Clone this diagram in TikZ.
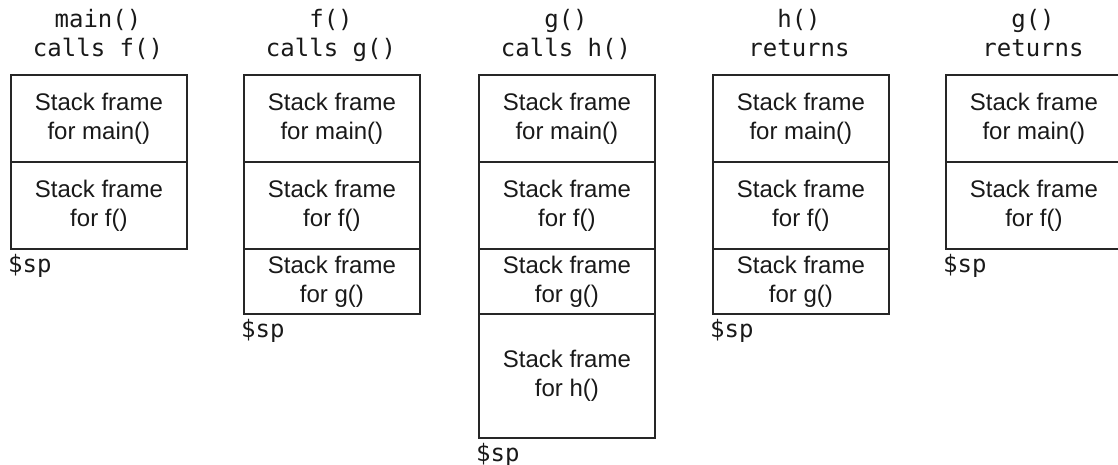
\documentclass[tikz,border=0pt]{standalone}
\usepackage{fontspec}
\setmainfont{Liberation Sans}
\setmonofont{DejaVu Sans Mono}
\begin{document}
\begin{tikzpicture}[x=1pt,y=-1pt,
  frame/.style={draw=black!85, line width=1.8pt, anchor=north west, minimum width=176pt, inner sep=0pt,
    align=center, text=black!90, font=\fontsize{24}{29}\selectfont},
  ttl/.style={anchor=base, inner sep=0pt, align=center, text=black!90, font=\ttfamily\fontsize{24}{29}\selectfont},
  sp/.style={anchor=base west, inner sep=0pt, text=black!90, font=\ttfamily\fontsize{24}{29}\selectfont}]
\useasboundingbox (0,0) rectangle (1118,465);
% column 1
\node[ttl] (t1a) at (98,28) {main()};
\node[ttl] (t1b) at (98,57) {calls f()};
\node[frame, minimum height=87pt] (c1m) at (10,74) {Stack frame\\for main()};
\node[frame, minimum height=87pt] (c1f) at (10,161) {Stack frame\\for f()};
\node[sp] (s1) at (8,272) {\$sp};
% column 2
\node[ttl] (t2a) at (331,28) {f()};
\node[ttl] (t2b) at (331,57) {calls g()};
\node[frame, minimum height=87pt] (c2m) at (243,74) {Stack frame\\for main()};
\node[frame, minimum height=87pt] (c2f) at (243,161) {Stack frame\\for f()};
\node[frame, minimum height=65pt] (c2g) at (243,248) {Stack frame\\for g()};
\node[sp] (s2) at (241,337) {\$sp};
% column 3
\node[ttl] (t3a) at (566,28) {g()};
\node[ttl] (t3b) at (566,57) {calls h()};
\node[frame, minimum height=87pt] (c3m) at (478,74) {Stack frame\\for main()};
\node[frame, minimum height=87pt] (c3f) at (478,161) {Stack frame\\for f()};
\node[frame, minimum height=65pt] (c3g) at (478,248) {Stack frame\\for g()};
\node[frame, minimum height=124pt] (c3h) at (478,313) {Stack frame\\for h()};
\node[sp] (s3) at (476,461) {\$sp};
% column 4
\node[ttl] (t4a) at (799,28) {h()};
\node[ttl] (t4b) at (799,57) {returns};
\node[frame, minimum height=87pt] (c4m) at (712,74) {Stack frame\\for main()};
\node[frame, minimum height=87pt] (c4f) at (712,161) {Stack frame\\for f()};
\node[frame, minimum height=65pt] (c4g) at (712,248) {Stack frame\\for g()};
\node[sp] (s4) at (710,337) {\$sp};
% column 5
\node[ttl] (t5a) at (1033,28) {g()};
\node[ttl] (t5b) at (1033,57) {returns};
\node[frame, minimum height=87pt] (c5m) at (945,74) {Stack frame\\for main()};
\node[frame, minimum height=87pt] (c5f) at (945,161) {Stack frame\\for f()};
\node[sp] (s5) at (943,272) {\$sp};
\end{tikzpicture}
\end{document}
